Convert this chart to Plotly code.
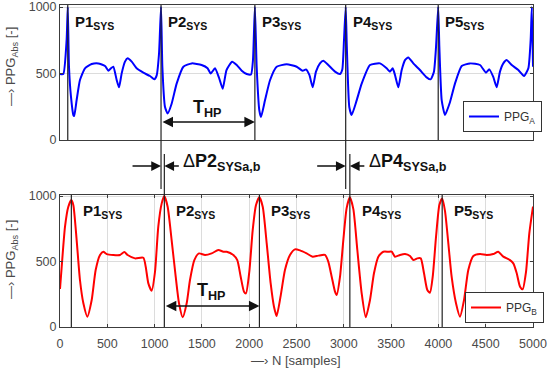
import plotly.graph_objects as go

# ---------------- data ----------------
samples_a = [0, 35, 70, 82, 95, 116, 141, 150, 176, 211, 264, 335, 405, 476, 511, 539, 564, 599, 624, 652,
             687, 715, 758, 810, 881, 951, 997, 1022, 1047, 1068, 1082, 1110, 1138, 1180, 1233, 1304, 1392,
             1497, 1560, 1593, 1638, 1680, 1720, 1760, 1820, 1868, 1921, 1974, 2019, 2040, 2060, 2079, 2107,
             2125, 2167, 2220, 2290, 2396, 2502, 2565, 2600, 2636, 2671, 2706, 2748, 2783, 2836, 2907, 2960,
             2984, 3002, 3020, 3032, 3058, 3083, 3136, 3189, 3277, 3383, 3453, 3488, 3517, 3541, 3576, 3612,
             3647, 3682, 3735, 3805, 3876, 3918, 3953, 3975, 3998, 4010, 4035, 4070, 4123, 4175, 4246, 4334,
             4440, 4503, 4538, 4580, 4616, 4651, 4686, 4722, 4775, 4845, 4905, 4951, 4975, 4988, 5000]
ppg_a = [496, 496, 752, 1000, 551, 326, 188, 180, 301, 451, 539, 571, 576, 556, 521, 539, 551, 451, 396, 501,
         589, 614, 589, 539, 506, 481, 456, 486, 652, 1000, 551, 248, 200, 273, 424, 551, 576,
         564, 540, 500, 539, 470, 385, 526, 589, 564, 521, 496, 492, 600, 1000, 551, 223,
         173, 298, 449, 551, 569, 551, 521, 531, 489, 396, 514, 576, 596, 564, 514, 496,
         530, 750, 1000, 700, 248, 188, 298, 424, 564, 576, 539, 514, 539, 489, 396, 526,
         601, 621, 576, 526, 471, 456, 514, 700, 1000, 700, 298, 188, 286, 424, 556, 576,
         564, 506, 531, 474, 396, 514, 576, 601, 564, 526, 481, 539, 750, 1000, 551]

samples_b = [0, 18, 53, 88, 120, 141, 176, 211, 247, 289, 335, 377, 423, 458, 494, 564, 634, 680, 715, 793,
             881, 906, 934, 969, 1004, 1039, 1075, 1103, 1138, 1180, 1223, 1258, 1297, 1339, 1374, 1420,
             1469, 1533, 1603, 1674, 1727, 1762, 1832, 1874, 1910, 1945, 1966, 2001, 2037, 2072, 2108,
             2143, 2185, 2227, 2262, 2290, 2333, 2378, 2431, 2484, 2537, 2607, 2671, 2731, 2801, 2836,
             2872, 2907, 2925, 2960, 2995, 3030, 3064, 3101, 3143, 3189, 3232, 3277, 3319, 3365, 3418,
             3470, 3506, 3541, 3594, 3647, 3700, 3735, 3777, 3813, 3848, 3883, 3911, 3940, 3975, 4010,
             4040, 4070, 4105, 4140, 4186, 4228, 4271, 4316, 4369, 4440, 4510, 4580, 4633, 4686, 4757,
             4792, 4828, 4863, 4891, 4926, 4961, 5000]
ppg_b = [290, 460, 766, 918, 969, 930, 664, 359, 181, 79, 206, 435, 550, 575, 557, 550, 550, 572, 550, 524,
         529, 460, 333, 277, 420, 766, 944, 1000, 918, 664, 384, 181, 74, 181, 359, 511,
         562, 550, 562, 588, 575, 575, 550, 511, 384, 270, 257, 420, 740, 931, 990,
         918, 639, 333, 155, 84, 240, 435, 550, 593, 585, 562, 537, 545, 550, 499,
         384, 270, 244, 384, 664, 908, 990, 900, 588, 257, 74, 206, 410, 537, 575,
         575, 575, 537, 550, 557, 542, 511, 524, 524, 410, 282, 262, 384, 690, 931,
         982, 885, 639, 384, 181, 79, 206, 435, 542, 557, 550, 557, 575, 537, 511,
         486, 410, 308, 288, 420, 715, 920]

peaks_a = [82, 1068, 2060, 3020, 3998]
peaks_b = [120, 1103, 2108, 3064, 4040]
peak_labels = ["P1", "P2", "P3", "P4", "P5"]
delta_idx = [1, 3]
x_ticks = [0, 500, 1000, 1500, 2000, 2500, 3000, 3500, 4000, 4500, 5000]
y_ticks = [0, 500, 1000]

# ---------------- layout helpers ----------------
W, H = 550, 373
def py(px):  # pixel from top -> paper fraction
    return 1 - px / H

x_dom = [60 / W, 533 / W]
top_dom = [py(140), py(5)]
bot_dom = [py(327), py(195)]
FONT = "Liberation Sans, Arial, sans-serif"
TICKC = "#4a4a4a"
FRAME = "#3c3c3c"

fig = go.Figure()
fig.add_trace(go.Scatter(x=samples_a, y=ppg_a, mode="lines", name="PPG<sub>A</sub>",
                         line=dict(color="#0000ff", width=2, shape="spline", smoothing=0.5),
                         xaxis="x", yaxis="y", legend="legend", showlegend=True))
fig.add_trace(go.Scatter(x=samples_b, y=ppg_b, mode="lines", name="PPG<sub>B</sub>",
                         line=dict(color="#ff0000", width=2, shape="spline", smoothing=0.6),
                         xaxis="x2", yaxis="y2", legend="legend2", showlegend=True))

shapes = []
for i, p in enumerate(peaks_a):
    y0 = py(189) if i in delta_idx else top_dom[0]
    shapes.append(dict(type="line", xref="x", yref="paper", x0=p, x1=p, y0=y0, y1=top_dom[1],
                       line=dict(color="#222222", width=1.2)))
for i, p in enumerate(peaks_b):
    y1 = py(154) if i in delta_idx else bot_dom[1]
    shapes.append(dict(type="line", xref="x2", yref="paper", x0=p, x1=p, y0=bot_dom[0], y1=y1,
                       line=dict(color="#222222", width=1.2)))

ann = []
# peak labels
for lab, p in zip(peak_labels, peaks_a):
    ann.append(dict(x=p, y=880, xref="x", yref="y", xanchor="left", yanchor="middle", xshift=5,
                    text=f"<b>{lab}<sub>SYS</sub></b>", showarrow=False,
                    font=dict(family=FONT, size=15, color="#111")))
for lab, p in zip(peak_labels, peaks_b):
    ann.append(dict(x=p, y=880, xref="x2", yref="y2", xanchor="left", yanchor="middle", xshift=10,
                    text=f"<b>{lab}<sub>SYS</sub></b>", showarrow=False,
                    font=dict(family=FONT, size=15, color="#111")))

# T_HP double arrows
for xr, yr, pk, yv, yt in (("x", "y", peaks_a, 135, 235), ("x2", "y2", peaks_b, 160, 270)):
    ann.append(dict(x=pk[2], y=yv, xref=xr, yref=yr, ax=pk[1], ay=yv, axref=xr, ayref=yr,
                    showarrow=True, arrowside="end+start", arrowhead=2, arrowsize=1.4,
                    arrowwidth=1.5, arrowcolor="#111", text=""))
    ann.append(dict(x=(pk[1] + pk[2]) / 2, y=yt, xref=xr, yref=yr, showarrow=False,
                    xanchor="center", yanchor="middle",
                    text="<b>T<sub>HP</sub></b>", font=dict(family=FONT, size=18, color="#111")))

# Delta arrows
ya = py(166)
for i in delta_idx:
    ann.append(dict(x=peaks_a[i], y=ya, xref="x", yref="paper", ax=-30, ay=0, showarrow=True,
                    arrowhead=2, arrowsize=1.3, arrowwidth=1.5, arrowcolor="#111", text=""))
    ann.append(dict(x=peaks_b[i], y=ya, xref="x2", yref="paper", ax=16, ay=0, showarrow=True,
                    arrowhead=2, arrowsize=1.3, arrowwidth=1.5, arrowcolor="#111", text=""))
    ann.append(dict(x=peaks_b[i], y=py(162), xref="x2", yref="paper", xanchor="left",
                    yanchor="middle", xshift=17, showarrow=False,
                    text=f"Δ<b>{peak_labels[i]}<sub>SYSa,b</sub></b>",
                    font=dict(family=FONT, size=18, color="#111")))

# axis titles
ytitle = "—› PPG<sub>Abs</sub> [-]"
ann.append(dict(x=11 / W, y=py(67), xref="paper", yref="paper", text=ytitle, textangle=-90,
                xanchor="center", yanchor="middle",
                showarrow=False, font=dict(family=FONT, size=13, color=TICKC)))
ann.append(dict(x=11 / W, y=py(260), xref="paper", yref="paper", text=ytitle, textangle=-90,
                xanchor="center", yanchor="middle",
                showarrow=False, font=dict(family=FONT, size=13, color=TICKC)))
ann.append(dict(x=296 / W, y=py(360), xref="paper", yref="paper", text="—› N [samples]",
                xanchor="center", yanchor="middle",
                showarrow=False, font=dict(family=FONT, size=13, color=TICKC)))

common_y = dict(tickvals=y_ticks, showline=True, mirror="ticks", linecolor=FRAME,
                linewidth=1, ticks="inside", ticklen=3, tickcolor=FRAME, showgrid=True,
                gridcolor="#dcdcdc", zeroline=False, automargin=False,
                tickfont=dict(family=FONT, size=12.5, color=TICKC))

fig.update_layout(
    width=W, height=H, margin=dict(l=0, r=0, t=0, b=0), paper_bgcolor="white",
    plot_bgcolor="white", shapes=shapes, annotations=ann, showlegend=True,
    xaxis=dict(domain=x_dom, anchor="y", range=[0, 5000], showticklabels=False, showgrid=False,
               showline=True, mirror=True, linecolor=FRAME, linewidth=1, zeroline=False,
               ticks="", automargin=False),
    yaxis=dict(domain=top_dom, anchor="x", range=[0, 1015], **common_y),
    xaxis2=dict(domain=x_dom, anchor="y2", range=[0, 5000], tickvals=x_ticks, showgrid=True,
                gridcolor="#dcdcdc", showline=True, mirror="ticks", linecolor=FRAME, linewidth=1,
                zeroline=False, ticks="inside", ticklen=3, tickcolor=FRAME, automargin=False,
                ticklabelstandoff=5, tickfont=dict(family=FONT, size=12.5, color=TICKC)),
    yaxis2=dict(domain=bot_dom, anchor="x2", range=[0, 1008], **common_y),
    legend=dict(x=542 / W, y=py(132), xanchor="right", yanchor="bottom", bgcolor="white",
                bordercolor="#333", borderwidth=1, font=dict(family=FONT, size=12, color="#333")),
    legend2=dict(x=544 / W, y=py(323), xanchor="right", yanchor="bottom", bgcolor="white",
                 bordercolor="#333", borderwidth=1, font=dict(family=FONT, size=12, color="#333")),
)

fig.write_html("out.html", config={"displayModeBar": False},
               post_script="document.body.style.margin='0';document.body.style.overflow='hidden';")
